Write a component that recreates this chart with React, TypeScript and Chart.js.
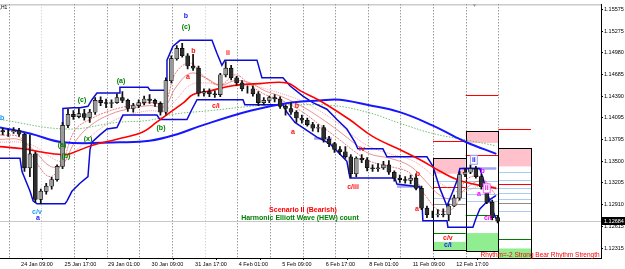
import { useEffect, useRef } from "react";
import { Chart, registerables } from "chart.js";

Chart.register(...registerables);

// ---------------- data (x = hourly bar index, y = price) ----------------
const candleBars = [2,6,10,14,18,22,26,30,34,38,42,46,50,54,58,62,66,70,74,78,82,86,90,94,98,102,106,110,114,118,122,126,130,134,138,142,146,150,154,158,162,166,170,174,178,182,186,190,194,198,202,206,210,214,218,222,226,230,234,238,242,246,250,254,258,262,266,270,274,278,282,286,290,294,298,302,306,310,314,318,322,326,330,334,338,342,346,350,354,358,362,366];
const opens = [1.1392,1.1390,1.1390,1.1392,1.1387,1.1341,1.1360,1.1298,1.1309,1.1316,
  1.1325,1.1343,1.1399,1.1414,1.1411,1.1415,1.1410,1.1417,1.1433,1.1430,
  1.1429,1.1430,1.1437,1.1433,1.1422,1.1426,1.1430,1.1435,1.1433,1.1429,
  1.1417,1.1460,1.1490,1.1504,1.1494,1.1480,1.1477,1.1443,1.1445,1.1442,
  1.1441,1.1468,1.1477,1.1464,1.1457,1.1449,1.1449,1.1442,1.1430,1.1433,
  1.1437,1.1435,1.1425,1.1422,1.1417,1.1409,1.1406,1.1400,1.1395,1.1396,
  1.1380,1.1374,1.1366,1.1363,1.1356,1.1333,1.1354,1.1352,1.1341,1.1340,
  1.1341,1.1345,1.1335,1.1327,1.1325,1.1324,1.1327,1.1313,1.1286,1.1277,
  1.1277,1.1278,1.1277,1.1289,1.1300,1.1332,1.1335,1.1340,1.1329,1.1315,
  1.1294,1.1273];
const highs = [1.1395,1.1394,1.1396,1.1395,1.1388,1.1386,1.1363,1.1312,1.1320,1.1328,
  1.1345,1.1403,1.1421,1.1419,1.1422,1.1421,1.1421,1.1437,1.1438,1.1435,
  1.1434,1.1442,1.1445,1.1435,1.1429,1.1434,1.1439,1.1441,1.1435,1.1431,
  1.1464,1.1494,1.1508,1.1511,1.1497,1.1496,1.1480,1.1449,1.1449,1.1446,
  1.1470,1.1486,1.1481,1.1466,1.1460,1.1453,1.1453,1.1445,1.1437,1.1439,
  1.1441,1.1438,1.1427,1.1430,1.1419,1.1413,1.1409,1.1403,1.1400,1.1399,
  1.1384,1.1376,1.1370,1.1370,1.1359,1.1356,1.1359,1.1355,1.1345,1.1347,
  1.1350,1.1351,1.1337,1.1331,1.1329,1.1331,1.1333,1.1316,1.1289,1.1282,
  1.1284,1.1285,1.1292,1.1304,1.1336,1.1340,1.1345,1.1343,1.1332,1.1317,
  1.1297,1.1276];
const lows = [1.1386,1.1384,1.1388,1.1384,1.1336,1.1329,1.1294,1.1292,1.1305,1.1312,
  1.1323,1.1340,1.1396,1.1407,1.1409,1.1406,1.1403,1.1414,1.1426,1.1423,
  1.1423,1.1429,1.1430,1.1418,1.1417,1.1423,1.1427,1.1429,1.1425,1.1413,
  1.1414,1.1457,1.1488,1.1492,1.1476,1.1474,1.1439,1.1439,1.1438,1.1437,
  1.1438,1.1465,1.1461,1.1454,1.1446,1.1443,1.1439,1.1426,1.1427,1.1430,
  1.1431,1.1422,1.1413,1.1414,1.1403,1.1402,1.1398,1.1391,1.1390,1.1376,
  1.1370,1.1362,1.1359,1.1354,1.1328,1.1329,1.1348,1.1337,1.1336,1.1336,
  1.1339,1.1332,1.1323,1.1321,1.1320,1.1319,1.1311,1.1284,1.1273,1.1273,
  1.1274,1.1274,1.1269,1.1288,1.1297,1.1329,1.1333,1.1327,1.1312,1.1292,
  1.1270,1.1266];
const closes = [1.1390,1.1390,1.1392,1.1387,1.1341,1.1360,1.1298,1.1309,1.1316,1.1325,
  1.1343,1.1399,1.1414,1.1411,1.1415,1.1410,1.1417,1.1433,1.1430,1.1429,
  1.1430,1.1437,1.1433,1.1422,1.1426,1.1430,1.1435,1.1433,1.1429,1.1417,
  1.1460,1.1490,1.1504,1.1494,1.1480,1.1477,1.1443,1.1445,1.1442,1.1441,
  1.1468,1.1477,1.1464,1.1457,1.1449,1.1449,1.1442,1.1430,1.1433,1.1437,
  1.1435,1.1425,1.1422,1.1417,1.1409,1.1406,1.1400,1.1395,1.1396,1.1380,
  1.1374,1.1366,1.1363,1.1356,1.1333,1.1354,1.1352,1.1341,1.1340,1.1341,
  1.1345,1.1335,1.1327,1.1325,1.1324,1.1327,1.1313,1.1286,1.1277,1.1277,
  1.1278,1.1277,1.1289,1.1300,1.1332,1.1335,1.1340,1.1329,1.1315,1.1294,
  1.1273,1.12684];
const bidPrice = 1.12684;

const redMaBars = [0,17,29,46,51,68,86,105,115,123,135,142,154,171,191,211,221,235,257,274,294,309,324,336,348,365];
const redMaVals = [1.1370,1.1367,1.1363,1.1359,1.1360,1.1372,1.1380,1.1390,1.1403,1.1414,1.1430,1.1441,1.1446,1.1453,1.1456,1.1457,1.1446,1.1433,1.1407,1.1384,1.1366,1.1352,1.1336,1.1325,1.1319,1.1313];

const blueMaBars = [0,22,46,88,110,132,147,184,213,235,250,270,294,318,335,343,365];
const blueMaVals = [1.1396,1.1388,1.1376,1.1376,1.1378,1.1388,1.1398,1.1419,1.1430,1.1433,1.1434,1.1427,1.1417,1.1399,1.1383,1.1376,1.1360];

const greenMaBars = [0,49,86,110,127,154,191,215,245,270,294,318,343,365];
const greenMaVals = [1.1407,1.1394,1.1403,1.1406,1.1414,1.1419,1.1426,1.1427,1.1426,1.1417,1.1402,1.1388,1.1379,1.1371];

const ribbonBars = [0,15,26,37,46,55,66,81,96,110,121,129,140,151,162,173,184,195,206,221,235,250,261,272,287,302,313,324,335,342,353,365];
const ribbonFast = [1.1386,1.1382,1.1350,1.1329,1.1350,1.1392,1.1407,1.1419,1.1426,1.1430,1.1430,1.1470,1.1484,1.1464,1.1454,1.1468,1.1454,1.1441,1.1434,1.1419,1.1400,1.1379,1.1363,1.1350,1.1343,1.1333,1.1303,1.1282,1.1289,1.1323,1.1329,1.1303];
const ribbonMid = [1.1380,1.1379,1.1363,1.1343,1.1346,1.1376,1.1398,1.1414,1.1422,1.1426,1.1425,1.1450,1.1470,1.1464,1.1454,1.1460,1.1457,1.1446,1.1439,1.1426,1.1410,1.1390,1.1374,1.1360,1.1354,1.1343,1.1323,1.1303,1.1299,1.1312,1.1323,1.1312];
const ribbonSlow = [1.1376,1.1376,1.1370,1.1356,1.1350,1.1363,1.1383,1.1403,1.1414,1.1419,1.1419,1.1433,1.1454,1.1457,1.1454,1.1454,1.1454,1.1449,1.1443,1.1433,1.1419,1.1400,1.1383,1.1370,1.1360,1.1352,1.1339,1.1320,1.1309,1.1309,1.1316,1.1315];

const upperBars = [46.3,46.3,53.7,58.8,64.7,67.6,71.3,88.2,88.2,108.8,110.3,122.8,122.8,127.2,132.4,155.9,159.6,163.2,165.4,189,192.6,208.1,213.2,222.8,230.1,240.4,247.8,255.1,261,263.2,281.6,284.6,314,318.4,323.5,328.7,333.1,336,338.2,352.9,358.1,361.8,364.7];
const upperVals = [1.1376,1.1422,1.1423,1.1423,1.1425,1.1434,1.1443,1.1443,1.1451,1.1451,1.1447,1.1447,1.1488,1.1507,1.1515,1.1515,1.1497,1.1481,1.1488,1.1488,1.1464,1.1464,1.1453,1.1439,1.1430,1.1421,1.1407,1.1394,1.1376,1.1367,1.1367,1.1356,1.1356,1.1343,1.1313,1.1289,1.1309,1.1323,1.1340,1.1340,1.1309,1.1286,1.1272];
const lowerBars = [0,14.7,16.2,22.1,24.3,27.2,47.8,49.3,52.9,58.8,64.7,66.2,67.6,73.5,78.7,86,90.4,115.4,117.6,137.5,141.2,144.9,178.7,180.1,208.1,211,216.9,233.1,242.6,255.1,257.4,290.4,291.9,308.8,310.3,311,328.7,329.4,347.8,350,352.9,358.8,364.7];
const lowerVals = [1.1354,1.1354,1.1336,1.1309,1.1296,1.1292,1.1292,1.1296,1.1309,1.1320,1.1329,1.1366,1.1376,1.1386,1.1394,1.1396,1.1413,1.1413,1.1407,1.1407,1.1421,1.1434,1.1434,1.1427,1.1427,1.1417,1.1403,1.1383,1.1374,1.1350,1.1327,1.1327,1.1319,1.1315,1.1296,1.1269,1.1269,1.1260,1.1260,1.1272,1.1285,1.1296,1.1303];

const xTickBars = [15.5,47.5,79.5,111.5,143.5,175.5,207.5,239.5,271.5,303.5,335.5];
const xTickLabels = ["24 Jan 09:00","25 Jan 17:00","29 Jan 01:00","30 Jan 09:00","31 Jan 17:00","4 Feb 01:00","5 Feb 09:00","6 Feb 17:00","8 Feb 01:00","11 Feb 09:00","12 Feb 17:00"];
const yTickValues = [1.15575,1.15275,1.14980,1.14685,1.14390,1.14095,1.13795,1.13500,1.13205,1.12910,1.12615,1.12315];
const daySeparatorBars = [6.5,30.5,54.5,78.5,102.5,126.5,150.5,174.5,198.5,222.5,246.5,270.5,294.5,318.5,342.5,366.5];
const lightSeparatorBars = [30.5,150.5];

// daily zones (bar range + price range)
const zoneBoxes = [
  { b0: 318.5, b1: 342.5, top: 1.1354, bottom: 1.1229 },
  { b0: 342.5, b1: 366.5, top: 1.1391, bottom: 1.1227 },
  { b0: 366.5, b1: 390.5, top: 1.1368, bottom: 1.1210 },
];
const zoneFills = [
  { b0: 318.5, b1: 342.5, top: 1.1354, bottom: 1.1333, kind: "pink" },
  { b0: 342.5, b1: 366.5, top: 1.1391, bottom: 1.1375, kind: "pink" },
  { b0: 366.5, b1: 390.5, top: 1.1367, bottom: 1.1343, kind: "pink" },
  { b0: 318.5, b1: 342.5, top: 1.1240, bottom: 1.1229, kind: "green" },
  { b0: 342.5, b1: 366.5, top: 1.1252, bottom: 1.1227, kind: "green" },
  { b0: 366.5, b1: 390.5, top: 1.1231, bottom: 1.1210, kind: "green" },
];
const levels = [
  { b0: 318.5, b1: 342.5, price: 1.1378, kind: "red" },
  { b0: 318.5, b1: 342.5, price: 1.1315, kind: "red" },
  { b0: 342.5, b1: 366.5, price: 1.1441, kind: "red" },
  { b0: 342.5, b1: 366.5, price: 1.1359, kind: "red" },
  { b0: 366.5, b1: 390.5, price: 1.1394, kind: "red" },
  { b0: 366.5, b1: 390.5, price: 1.1319, kind: "red" },
  { b0: 318.5, b1: 342.5, price: 1.1323, kind: "lightblue" },
  { b0: 318.5, b1: 342.5, price: 1.1300, kind: "lightblue" },
  { b0: 342.5, b1: 366.5, price: 1.1323, kind: "lightblue" },
  { b0: 342.5, b1: 366.5, price: 1.1313, kind: "lightblue" },
  { b0: 342.5, b1: 366.5, price: 1.1305, kind: "lightblue" },
  { b0: 342.5, b1: 366.5, price: 1.1296, kind: "lightblue" },
  { b0: 366.5, b1: 390.5, price: 1.1336, kind: "lightblue" },
  { b0: 366.5, b1: 390.5, price: 1.1325, kind: "lightblue" },
  { b0: 366.5, b1: 390.5, price: 1.1313, kind: "lightblue" },
  { b0: 366.5, b1: 390.5, price: 1.1307, kind: "lightblue" },
  { b0: 366.5, b1: 390.5, price: 1.1299, kind: "lightblue" },
  { b0: 366.5, b1: 390.5, price: 1.1282, kind: "lightblue" },
  { b0: 318.5, b1: 342.5, price: 1.1292, kind: "grey" },
  { b0: 366.5, b1: 390.5, price: 1.1293, kind: "grey" },
  { b0: 318.5, b1: 342.5, price: 1.1252, kind: "darkgreen" },
  { b0: 342.5, b1: 366.5, price: 1.1277, kind: "darkgreen" },
  { b0: 366.5, b1: 390.5, price: 1.1244, kind: "darkgreen" },
  { b0: 231, b1: 244, price: 1.1382, kind: "lavender" },
  { b0: 292, b1: 309, price: 1.1316, kind: "lavender" },
  { b0: 340, b1: 365, price: 1.1341, kind: "lavender" },
];

const waveLabels = [
  { bar: 136.8, price: 1.1548, text: "b", kind: "blue" },
  { bar: 136.8, price: 1.1533, text: "(c)", kind: "green" },
  { bar: 142.3, price: 1.1501, text: "b", kind: "red" },
  { bar: 167.6, price: 1.1497, text: "ii", kind: "red" },
  { bar: 138.2, price: 1.1465, text: "a", kind: "red" },
  { bar: 89, price: 1.1460, text: "(a)", kind: "green" },
  { bar: 60.3, price: 1.1434, text: "(c)", kind: "green" },
  { bar: 64.7, price: 1.1380, text: "(x)", kind: "green" },
  { bar: 45.6, price: 1.1372, text: "(a)", kind: "green" },
  { bar: 48.5, price: 1.1357, text: "(b)", kind: "green" },
  { bar: 118.4, price: 1.1395, text: "(b)", kind: "green" },
  { bar: 158.8, price: 1.1426, text: "c/i", kind: "red" },
  { bar: 1.5, price: 1.1409, text: "b", kind: "cyan" },
  { bar: 27.2, price: 1.1281, text: "c/v", kind: "cyan" },
  { bar: 27.9, price: 1.1272, text: "a", kind: "blue" },
  { bar: 218.4, price: 1.1425, text: "b", kind: "red" },
  { bar: 215.4, price: 1.1390, text: "a", kind: "red" },
  { bar: 266.2, price: 1.1367, text: "iv", kind: "red" },
  { bar: 259.6, price: 1.1315, text: "c/iii", kind: "red" },
  { bar: 307.4, price: 1.1332, text: "b", kind: "red" },
  { bar: 306.6, price: 1.1285, text: "a", kind: "red" },
  { bar: 348.5, price: 1.1352, text: "ii", kind: "blueBoxed" },
  { bar: 355, price: 1.1336, text: "b", kind: "magenta" },
  { bar: 352.2, price: 1.1305, text: "a", kind: "magenta" },
  { bar: 358, price: 1.1313, text: "ii", kind: "magentaBoxed" },
  { bar: 358.8, price: 1.1272, text: "c/i", kind: "magenta" },
  { bar: 329.4, price: 1.1245, text: "c/v", kind: "red" },
  { bar: 329.4, price: 1.1236, text: "c/i", kind: "blue" },
  { bar: 222.8, price: 1.1284, text: "Scenario II (Bearish)", kind: "titleRed" },
  { bar: 220.6, price: 1.1272, text: "Harmonic Elliott Wave (HEW) count", kind: "titleGreen" },
  { bar: 441, price: 1.1222, text: "Rhythm=-2 Strong Bear Rhythm Strength", kind: "rhythm" },
  { bar: 2.5, price: 1.1559, text: ",H1", kind: "tiny" },
  { bar: 349, price: 1.1562, text: "\u25BC", kind: "marker" },
];

// ---------------- styling ----------------
const FONT = '"Liberation Sans", Arial, sans-serif';
const labelStyle: Record<string, { color: string; font: string; align: CanvasTextAlign; box?: string }> = {
  red: { color: "#ff1010", font: `bold 7px ${FONT}`, align: "center" },
  green: { color: "#008000", font: `bold 7px ${FONT}`, align: "center" },
  blue: { color: "#1a1aff", font: `bold 7px ${FONT}`, align: "center" },
  cyan: { color: "#1e9bff", font: `bold 7px ${FONT}`, align: "center" },
  magenta: { color: "#ff00ff", font: `bold 7px ${FONT}`, align: "center" },
  blueBoxed: { color: "#1a1aff", font: `bold 7px ${FONT}`, align: "center", box: "#9c9cf0" },
  magentaBoxed: { color: "#ff00ff", font: `bold 7px ${FONT}`, align: "center", box: "#ff66ff" },
  titleRed: { color: "#ff0000", font: `bold 7px ${FONT}`, align: "center" },
  titleGreen: { color: "#008000", font: `bold 7px ${FONT}`, align: "center" },
  rhythm: { color: "#ff0000", font: `6.5px ${FONT}`, align: "right" },
  tiny: { color: "#000", font: `5px ${FONT}`, align: "center" },
  marker: { color: "#999", font: `5px ${FONT}`, align: "center" },
};
const levelStyle: Record<string, { color: string; width: number }> = {
  red: { color: "#ff0000", width: 1.2 },
  lightblue: { color: "#a9cdf2", width: 1 },
  grey: { color: "#8c8c8c", width: 1 },
  darkgreen: { color: "#007a00", width: 1.2 },
  lavender: { color: "#a3a3f2", width: 2.6 },
};
const fillStyle: Record<string, string> = { pink: "#ffc1cc", green: "#90ee90" };

const pts = (xs: number[], ys: number[]) => xs.map((x, i) => ({ x, y: ys[i] }));

const overlayPlugin = {
  id: "overlay",
  beforeDatasetsDraw(chart: any) {
    const { ctx, chartArea: a, scales } = chart;
    const x = scales.x, y = scales.y;
    ctx.save();
    ctx.beginPath();
    ctx.rect(a.left, a.top, a.right - a.left, a.bottom - a.top);
    ctx.clip();
    ctx.strokeStyle = "#a0a0a0";
    ctx.lineWidth = 1;
    ctx.beginPath(); ctx.moveTo(a.left, a.top + 0.5); ctx.lineTo(a.right, a.top + 0.5); ctx.stroke();
    ctx.setLineDash([1, 2]);
    for (const b of daySeparatorBars) {
      const px = Math.round(x.getPixelForValue(b)) + 0.5;
      ctx.strokeStyle = lightSeparatorBars.includes(b) ? "#c4c4c4" : "#6e6e6e";
      ctx.beginPath(); ctx.moveTo(px, a.top); ctx.lineTo(px, a.bottom); ctx.stroke();
    }
    ctx.setLineDash([]);
    const by = Math.round(y.getPixelForValue(bidPrice)) + 0.5;
    ctx.strokeStyle = "#c8c8c8";
    ctx.beginPath(); ctx.moveTo(a.left, by); ctx.lineTo(a.right, by); ctx.stroke();
    for (const z of zoneFills) {
      const x0 = x.getPixelForValue(z.b0), x1 = x.getPixelForValue(z.b1);
      const y0 = y.getPixelForValue(z.top), y1 = y.getPixelForValue(z.bottom);
      ctx.fillStyle = fillStyle[z.kind];
      ctx.fillRect(x0, y0, x1 - x0, y1 - y0);
    }
    for (const l of levels) {
      const st = levelStyle[l.kind];
      const x0 = x.getPixelForValue(l.b0), x1 = x.getPixelForValue(l.b1);
      const py = Math.round(y.getPixelForValue(l.price)) + 0.5;
      ctx.strokeStyle = st.color;
      ctx.lineWidth = st.width;
      ctx.beginPath(); ctx.moveTo(x0, py); ctx.lineTo(x1, py); ctx.stroke();
    }
    ctx.strokeStyle = "#000";
    ctx.lineWidth = 1;
    for (const z of zoneBoxes) {
      const x0 = Math.round(x.getPixelForValue(z.b0)) + 0.5, x1 = Math.round(x.getPixelForValue(z.b1)) + 0.5;
      const y0 = Math.round(y.getPixelForValue(z.top)) + 0.5, y1 = Math.round(y.getPixelForValue(z.bottom)) + 0.5;
      ctx.strokeRect(x0, y0, x1 - x0, y1 - y0);
    }
    ctx.restore();
  },
  afterDatasetsDraw(chart: any) {
    const { ctx, scales } = chart;
    const x = scales.x, y = scales.y;
    ctx.save();
    ctx.textBaseline = "middle";
    for (const l of waveLabels) {
      const st = labelStyle[l.kind];
      const px = x.getPixelForValue(l.bar), py = y.getPixelForValue(l.price);
      ctx.font = st.font;
      ctx.textAlign = st.align;
      if (st.box) {
        const w = ctx.measureText(l.text).width + 3;
        ctx.fillStyle = "#ffffff";
        ctx.fillRect(px - w / 2, py - 4.5, w, 9);
        ctx.strokeStyle = st.box;
        ctx.lineWidth = 1;
        ctx.strokeRect(px - w / 2, py - 4.5, w, 9);
      }
      ctx.fillStyle = st.color;
      ctx.fillText(l.text, px, py);
    }
    ctx.restore();
  },
  afterDraw(chart: any) {
    const { ctx, chartArea: a, scales, width } = chart;
    const py = Math.round(scales.y.getPixelForValue(bidPrice));
    ctx.save();
    ctx.fillStyle = "#000";
    ctx.fillRect(a.right + 1, py - 4, width - a.right - 1, 8);
    ctx.fillStyle = "#fff";
    ctx.font = `5.5px ${FONT}`;
    ctx.textAlign = "left";
    ctx.textBaseline = "middle";
    ctx.fillText(bidPrice.toFixed(5), a.right + 3, py);
    ctx.restore();
  },
};

export default function App() {
  const ref = useRef<HTMLCanvasElement>(null);
  useEffect(() => {
    document.body.style.margin = "0";
    const canvas = ref.current!;
    const wickData = candleBars.map((b, i) => ({ x: b, y: [lows[i], highs[i]] }));
    const bodyData = candleBars.map((b, i) => ({ x: b, y: [Math.min(opens[i], closes[i]), Math.max(opens[i], closes[i])] }));
    const bodyColors = candleBars.map((_, i) => (closes[i] >= opens[i] ? "#9a9a9a" : "#2e2e2e"));
    const line = (data: any[], color: string, width: number, order: number, extra: any = {}) => ({
      type: "line" as const,
      data,
      borderColor: color,
      borderWidth: width,
      pointRadius: 0,
      fill: false,
      order,
      ...extra,
    });
    const chart = new Chart(canvas, {
      type: "line",
      data: {
        datasets: [
          { type: "bar", data: bodyData as any, backgroundColor: bodyColors, borderColor: "#000", borderWidth: 0.6, borderSkipped: false, barThickness: 4, grouped: false, order: 0 } as any,
          { type: "bar", data: wickData as any, backgroundColor: "#111", barThickness: 1.1, grouped: false, order: 1 } as any,
          line(pts(redMaBars, redMaVals), "#ff0000", 1.6, 2, { tension: 0.4 }),
          line(pts(blueMaBars, blueMaVals), "#1717ff", 2, 3, { tension: 0.4 }),
          line(pts(upperBars, upperVals), "#0b0bd6", 1.5, 4, { tension: 0 }),
          line(pts(lowerBars, lowerVals), "#0b0bd6", 1.5, 4, { tension: 0 }),
          line(pts(greenMaBars, greenMaVals), "#70c070", 1, 5, { tension: 0.4, borderDash: [1.5, 1.5] }),
          line(pts(ribbonBars, ribbonFast), "rgba(225,80,80,0.85)", 0.9, 6, { tension: 0.4, borderDash: [2, 1] }),
          line(pts(ribbonBars, ribbonMid), "rgba(232,110,110,0.85)", 0.9, 7, { tension: 0.4 }),
          line(pts(ribbonBars, ribbonSlow), "rgba(238,140,140,0.9)", 0.9, 8, { tension: 0.4, borderDash: [1, 1] }),
        ],
      },
      options: {
        responsive: false,
        animation: false,
        devicePixelRatio: 1,
        events: [],
        layout: { padding: 0 },
        plugins: { legend: { display: false }, tooltip: { enabled: false } },
        scales: {
          x: {
            type: "linear",
            min: 0,
            max: 442,
            offset: false,
            afterBuildTicks: (s: any) => { s.ticks = xTickBars.map((v) => ({ value: v })); },
            afterFit: (s: any) => { s.height = 11; },
            ticks: {
              autoSkip: false,
              maxRotation: 0,
              align: "start",
              padding: 1,
              color: "#000",
              font: { family: FONT, size: 5.5 },
              callback: (_v: any, i: number) => xTickLabels[i],
            },
            grid: { drawOnChartArea: false, drawTicks: true, tickLength: 2, color: "#000" },
            border: { display: true, color: "#000", width: 1 },
          },
          y: {
            type: "linear",
            position: "right",
            min: 1.1218,
            max: 1.15642,
            afterBuildTicks: (s: any) => { s.ticks = yTickValues.map((v) => ({ value: v })); },
            afterFit: (s: any) => { s.width = 24; },
            ticks: {
              autoSkip: false,
              padding: 1,
              color: "#000",
              font: { family: FONT, size: 5.5 },
              callback: (v: any) => Number(v).toFixed(5),
            },
            grid: { drawOnChartArea: false, drawTicks: true, tickLength: 2, color: "#000" },
            border: { display: true, color: "#000", width: 1 },
          },
        },
      } as any,
      plugins: [overlayPlugin],
    });
    return () => chart.destroy();
  }, []);
  return (
    <div style={{ width: 625, height: 269 }}>
      <canvas ref={ref} width={625} height={269} style={{ display: "block" }} />
    </div>
  );
}
